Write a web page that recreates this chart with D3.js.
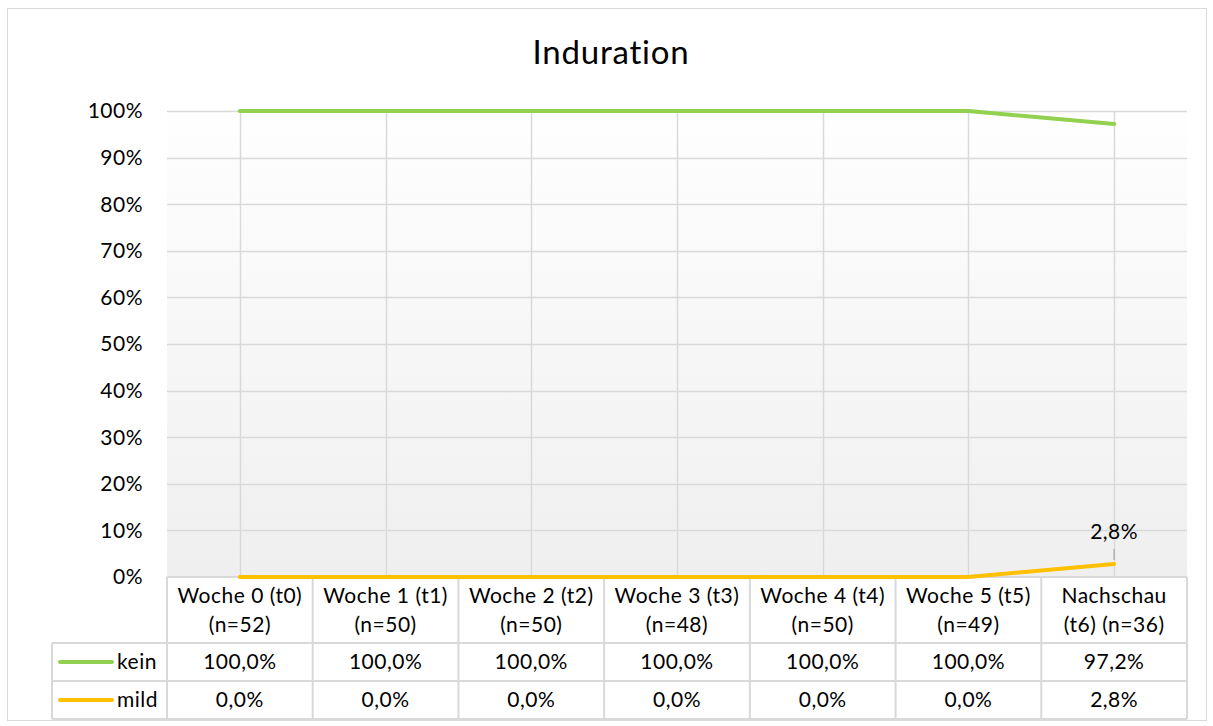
<!DOCTYPE html>
<html>
<head>
<meta charset="utf-8">
<script src="https://cdn.jsdelivr.net/npm/d3@7"></script>
<style>
  body { margin: 0; background: #fff; }
  text { font-family: Lato, "Open Sans", sans-serif; fill: #000; }
</style>
</head>
<body>
<div id="chart"></div>
<script>
// Induration - line chart with Excel-style data table

const categories = ['Woche 0 (t0)', 'Woche 1 (t1)', 'Woche 2 (t2)', 'Woche 3 (t3)', 'Woche 4 (t4)', 'Woche 5 (t5)', 'Nachschau'];
const subLabels = ['(n=52)', '(n=50)', '(n=50)', '(n=48)', '(n=50)', '(n=49)', '(t6) (n=36)'];
const keinValues = [100, 100, 100, 100, 100, 100, 97.2];
const mildValues = [0, 0, 0, 0, 0, 0, 2.8];
const yTicks = [0, 10, 20, 30, 40, 50, 60, 70, 80, 90, 100];

const series = [
    {name: 'kein', values: keinValues, color: '#92d050'},
    {name: 'mild', values: mildValues, color: '#ffc000'}
];

const width = 1213, height = 726;
const plotLeft = 167, plotRight = 1187, plotTop = 111, plotBottom = 577;
const tableLeft = 52, headerBottom = 643, rowH = 38;
const fs = '21px', ls = '0.5px';

const svg = d3.select('#chart').append('svg')
    .attr('width', width)
    .attr('height', height);

// outer chart border
svg.append('rect')
    .attr('x', 7.5).attr('y', 8.5)
    .attr('width', 1199).attr('height', 712)
    .attr('fill', '#fff')
    .attr('stroke', '#d9d9d9');

// plot background gradient
const grad = svg.append('defs').append('linearGradient')
    .attr('id', 'bg').attr('x1', 0).attr('y1', 0).attr('x2', 0).attr('y2', 1);
grad.append('stop').attr('offset', '0%').attr('stop-color', '#ffffff');
grad.append('stop').attr('offset', '100%').attr('stop-color', '#efefef');

svg.append('rect')
    .attr('x', plotLeft).attr('y', plotTop - 14)
    .attr('width', plotRight - plotLeft).attr('height', plotBottom - plotTop + 14)
    .attr('fill', 'url(#bg)');

const x = d3.scaleBand().domain(categories).range([plotLeft, plotRight]);
const y = d3.scaleLinear().domain([0, 100]).range([plotBottom, plotTop]);
const cx = d => x(d) + x.bandwidth() / 2;

// title
svg.append('text')
    .attr('x', 611).attr('y', 64)
    .attr('text-anchor', 'middle')
    .attr('font-size', '33px')
    .attr('letter-spacing', '0.8px')
    .text('Induration');

// horizontal gridlines
svg.append('g').selectAll('line')
    .data(yTicks.filter(d => d > 0))
    .enter().append('line')
    .attr('x1', plotLeft).attr('x2', plotRight)
    .attr('y1', d => Math.round(y(d)) + 0.5).attr('y2', d => Math.round(y(d)) + 0.5)
    .attr('stroke', '#d9d9d9').attr('stroke-width', 1.5);

// vertical gridlines at category centers
svg.append('g').selectAll('line')
    .data(categories)
    .enter().append('line')
    .attr('x1', d => Math.round(cx(d)) + 0.5).attr('x2', d => Math.round(cx(d)) + 0.5)
    .attr('y1', plotTop).attr('y2', plotBottom)
    .attr('stroke', '#d9d9d9').attr('stroke-width', 1.5);

// y axis labels
svg.append('g').selectAll('text')
    .data(yTicks)
    .enter().append('text')
    .attr('x', 143)
    .attr('y', d => y(d))
    .attr('dy', '0.35em')
    .attr('text-anchor', 'end')
    .attr('font-size', fs)
    .attr('letter-spacing', ls)
    .text(d => d + '%');

// data table
const tbl = svg.append('g');
const tableBottom = headerBottom + rowH * series.length;
const gridColor = '#d9d9d9';

// horizontal table lines
tbl.append('line').attr('x1', plotLeft).attr('x2', plotRight).attr('y1', plotBottom).attr('y2', plotBottom)
    .attr('stroke', gridColor).attr('stroke-width', 2);
[headerBottom, headerBottom + rowH, tableBottom].forEach(yy => {
    tbl.append('line').attr('x1', tableLeft).attr('x2', plotRight).attr('y1', yy).attr('y2', yy)
        .attr('stroke', gridColor).attr('stroke-width', 2);
});
// vertical table lines
tbl.append('line').attr('x1', tableLeft).attr('x2', tableLeft).attr('y1', headerBottom).attr('y2', tableBottom)
    .attr('stroke', gridColor).attr('stroke-width', 2);
categories.forEach(c => {
    tbl.append('line').attr('x1', x(c)).attr('x2', x(c)).attr('y1', plotBottom).attr('y2', tableBottom)
        .attr('stroke', gridColor).attr('stroke-width', 2);
});
tbl.append('line').attr('x1', plotRight).attr('x2', plotRight).attr('y1', plotBottom).attr('y2', tableBottom)
    .attr('stroke', gridColor).attr('stroke-width', 2);

// header labels
categories.forEach((c, i) => {
    tbl.append('text')
        .attr('x', cx(c)).attr('y', 603)
        .attr('text-anchor', 'middle').attr('font-size', fs)
        .attr('letter-spacing', ls)
        .text(c);
    tbl.append('text')
        .attr('x', cx(c)).attr('y', 632)
        .attr('text-anchor', 'middle').attr('font-size', fs)
        .attr('letter-spacing', ls)
        .text(subLabels[i]);
});

// series rows
series.forEach((s, r) => {
    const rowMid = headerBottom + rowH * r + rowH / 2;
    tbl.append('line')
        .attr('x1', 60).attr('x2', 112)
        .attr('y1', rowMid).attr('y2', rowMid)
        .attr('stroke', s.color).attr('stroke-width', 4)
        .attr('stroke-linecap', 'round');
    tbl.append('text')
        .attr('x', 117).attr('y', rowMid).attr('dy', '0.35em')
        .attr('font-size', fs)
        .attr('letter-spacing', ls)
        .text(s.name);
    s.values.forEach((v, i) => {
        tbl.append('text')
            .attr('x', cx(categories[i])).attr('y', rowMid).attr('dy', '0.35em')
            .attr('text-anchor', 'middle').attr('font-size', fs)
            .attr('letter-spacing', ls)
            .text(v.toFixed(1).replace('.', ',') + '%');
    });
});

// lines (drawn on top of the table border)
const line = d3.line()
    .x((d, i) => cx(categories[i]))
    .y(d => y(d));

svg.append('g').selectAll('path')
    .data(series)
    .enter().append('path')
    .attr('d', d => line(d.values))
    .attr('fill', 'none')
    .attr('stroke', d => d.color)
    .attr('stroke-width', 4)
    .attr('stroke-linecap', 'round');

// data label on last mild point with leader line
const lastIdx = mildValues.length - 1;
const lx = cx(categories[lastIdx]);
svg.append('line')
    .attr('x1', lx).attr('x2', lx)
    .attr('y1', y(mildValues[lastIdx]) - 4).attr('y2', y(mildValues[lastIdx]) - 15)
    .attr('stroke', '#a6a6a6').attr('stroke-width', 1.2);
svg.append('text')
    .attr('x', lx).attr('y', 539)
    .attr('text-anchor', 'middle')
    .attr('font-size', fs)
    .attr('letter-spacing', ls)
    .text(mildValues[lastIdx].toFixed(1).replace('.', ',') + '%');
</script>
</body>
</html>
